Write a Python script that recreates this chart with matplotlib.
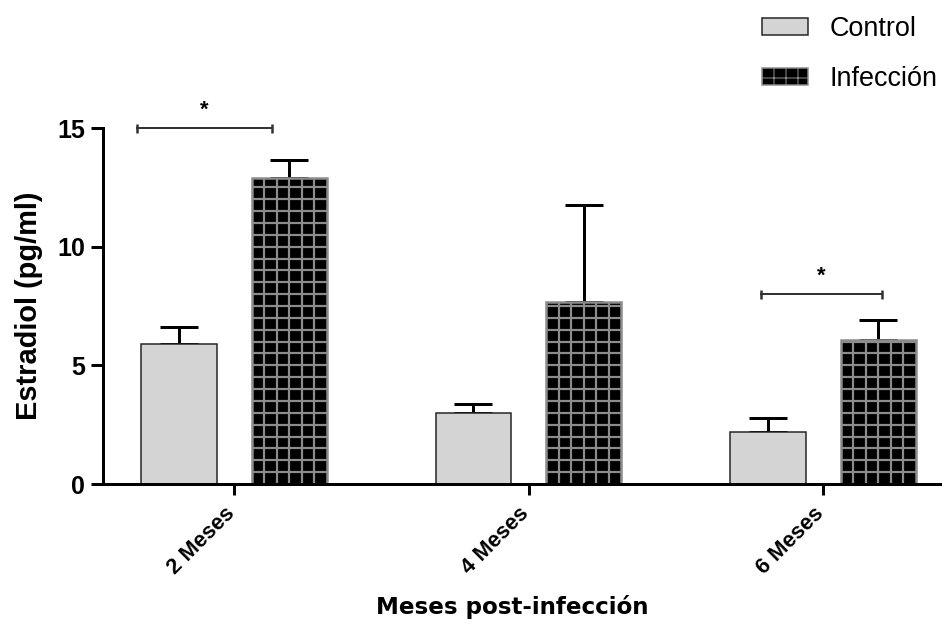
import matplotlib
matplotlib.use("Agg")
import matplotlib.pyplot as plt
import matplotlib.transforms as mtransforms
from matplotlib.patches import Patch
import numpy as np

# data
groups = ["2 Meses", "4 Meses", "6 Meses"]
control = [5.9, 3.0, 2.2]
control_sem = [0.7, 0.37, 0.58]
infeccion = [12.9, 7.67, 6.07]
infeccion_sem = [0.75, 4.09, 0.84]

# significance bars (start, end, height) per group
sig_start = [-0.33, 1.79]
sig_end = [0.13, 2.20]
sig_y = [15.0, 8.0]

plt.rcParams['font.family'] = ['Liberation Sans', 'DejaVu Sans']

fig = plt.figure(figsize=(942 / 72, 626 / 72), dpi=72)
ax = fig.add_axes([103 / 942, 142 / 626, 839 / 942, 356 / 626])

x = np.arange(len(groups))
off = 0.187
w = 0.255

ax.bar(x - off, control, w, color='#d4d4d4', edgecolor='#222222', linewidth=1.5, zorder=2)
inf_bars = ax.bar(x + off, infeccion, w, color='black', edgecolor='#8c8c8c', linewidth=2.5, zorder=2)

# grey checker grid inside the infection bars (6 columns, rows every 0.5)
for b in inf_bars:
    x0, bw, bh = b.get_x(), b.get_width(), b.get_height()
    xs = x0 + bw * np.arange(1, 6) / 6
    ys = np.arange(0.5, bh, 0.5)
    vl = ax.vlines(xs, 0, bh, colors='#8c8c8c', lw=2.2, zorder=2.5)
    hl = ax.hlines(ys, x0, x0 + bw, colors='#8c8c8c', lw=2.2, zorder=2.5)
    vl.set_clip_path(b)
    hl.set_clip_path(b)

# upper error bars only, drawn behind bars
ax.errorbar(x - off, control, yerr=[np.zeros(3), control_sem], fmt='none', ecolor='black',
            elinewidth=3, capsize=19, capthick=3, zorder=1)
ax.errorbar(x + off, infeccion, yerr=[np.zeros(3), infeccion_sem], fmt='none', ecolor='black',
            elinewidth=3, capsize=19, capthick=3, zorder=1)

for s, e, h in zip(sig_start, sig_end, sig_y):
    ax.plot([s, e], [h, h], color='#333333', lw=2, clip_on=False, zorder=3)
    ax.plot([s, e], [h, h], ls='none', marker='|', ms=9, mew=2.5, color='#333333', clip_on=False)
    ax.text((s + e) / 2, h + 0.3, '*', ha='center', va='bottom', fontsize=22, fontweight='bold')

ax.set_xlim(-0.445, 2.404)
ax.set_ylim(0, 15)
ax.set_yticks([0, 5, 10, 15])
ax.set_xticks(x)
ax.set_xticklabels([])

# rotated group labels, placed a bit left of the tick like the original
lab_tr = ax.get_xaxis_transform() + mtransforms.ScaledTranslation(-10 / 72, -19 / 72, fig.dpi_scale_trans)
for xi, g in zip(x, groups):
    ax.text(xi, 0, g, transform=lab_tr, rotation=45, ha='right', va='top',
            rotation_mode='anchor', fontsize=22, fontweight='bold')

for lab in ax.get_yticklabels():
    lab.set_fontsize(25)
    lab.set_fontweight('bold')

ax.tick_params(axis='y', length=12, width=3, pad=6)
ax.tick_params(axis='x', length=11, width=3, pad=4)
for side in ['top', 'right']:
    ax.spines[side].set_visible(False)
for side in ['left', 'bottom']:
    ax.spines[side].set_linewidth(3)

ax.set_ylabel('Estradiol (pg/ml)', fontsize=29, fontweight='bold', labelpad=14)
fig.text(512 / 942, 1 - 607 / 626, 'Meses post-infección', ha='center', va='center',
         fontsize=23, fontweight='bold', family='DejaVu Sans')

handles = [Patch(facecolor='#d4d4d4', edgecolor='#222222', linewidth=1.5),
           Patch(facecolor='black', edgecolor='#8c8c8c', hatch='+', linewidth=1.5)]
fig.legend(handles, ['Control', 'Infección'], loc='upper left', bbox_to_anchor=(762 / 942, 1 - 16 / 626),
           frameon=False, fontsize=27, handlelength=1.7, handleheight=0.6,
           handletextpad=0.8, labelspacing=0.88, borderpad=0, borderaxespad=0)

fig.savefig('out.png', dpi=72)
